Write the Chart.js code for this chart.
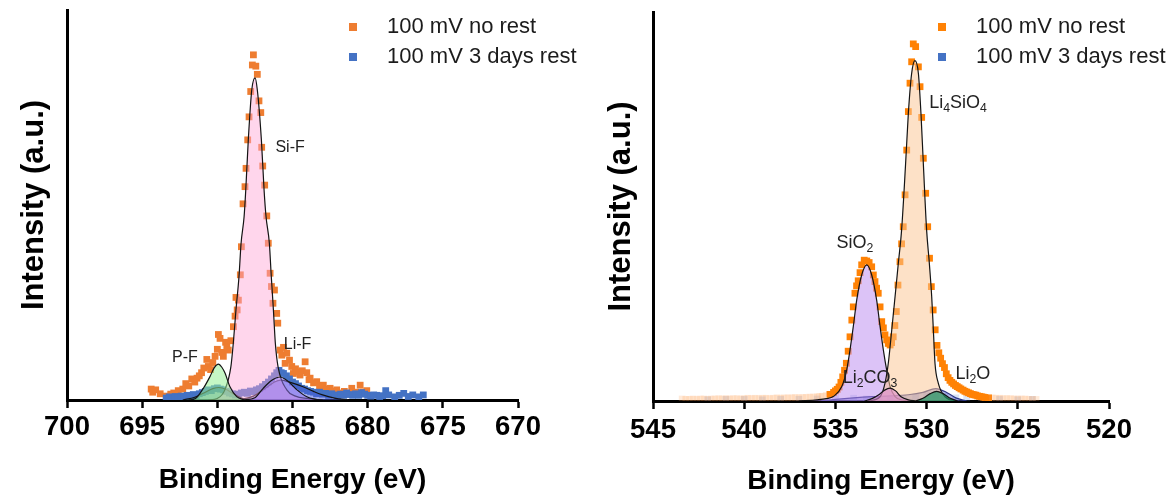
<!DOCTYPE html>
<html>
<head>
<meta charset="utf-8">
<script src="https://cdn.jsdelivr.net/npm/chart.js@4.4.1/dist/chart.umd.min.js"></script>
<style>
  html, body { margin: 0; padding: 0; background: #fff; width: 1171px; height: 498px; overflow: hidden; }
  #f1s { position: absolute; left: 0; top: 0; }
  #o1s { position: absolute; left: 590px; top: 0; }
</style>
</head>
<body>
<canvas id="f1s" width="590" height="498"></canvas>
<canvas id="o1s" width="581" height="498"></canvas>
<script>
// ---------- F 1s region: measured points [binding energy (eV), intensity (a.u.)] ----------
const fNoRest = [
  [694.4,2.8],[694.3,2.0],[694.1,2.6],[693.8,1.6],[693.4,1.0],[693.1,1.5],[692.9,1.8],[692.6,2.4],
  [692.3,2.8],[692.1,4.2],[691.9,3.6],[691.7,5.4],[691.5,4.6],[691.35,5.6],[691.2,6.2],[691.05,7.0],
  [690.9,8.2],[690.7,10.4],[690.6,8.6],[690.45,7.8],[690.3,9.6],[690.15,11.2],[690.0,13.0],[689.93,16.8],
  [689.82,15.8],[689.7,12.2],[689.6,11.2],[689.45,14.8],[689.37,13.6],[689.27,12.8],[689.1,15.2],[688.93,18.8],
  [688.82,21.5],[688.76,26.3],[688.68,23.1],[688.6,25.6],[688.47,32.1],[688.4,39.3],[688.29,50.3],[688.16,54.7],
  [688.09,59.4],[687.98,66.7],[687.89,72.6],[687.78,79.1],[687.67,85.9],[687.6,88.5],[687.44,85.6],[687.34,83.5],
  [687.23,76.7],[687.11,73.7],[687.05,64.8],[686.98,60.0],[686.85,55.1],[686.71,47.2],[686.61,40.2],[686.49,32.5],
  [686.4,29.1],[686.3,24.8],[686.2,28.2],[686.05,22.2],[685.98,19.7],[685.83,12.8],[685.71,11.5],[685.6,13.5],
  [685.49,9.4],[685.38,12.0],[685.2,10.2],[685.05,8.6],[684.94,6.8],[684.8,8.0],[684.65,7.2],[684.5,6.4],
  [684.35,7.5],[684.16,9.8],[684.05,7.0],[683.9,5.2],[683.83,5.6],[683.6,4.4],[683.39,4.7],[683.2,3.6],
  [682.95,3.8],[682.75,2.8],[682.5,3.0],[682.3,2.2],[682.06,2.6],[681.8,1.8],[681.55,2.2],[681.3,1.6],
  [681.06,3.0],[680.8,2.0],[680.5,3.8],[680.3,2.0],[680.06,2.4]
];
const fRest3d = [
  [693.4,0.5],[693.2,0.8],[693.0,0.4],[692.8,0.9],[692.6,0.6],[692.4,1.0],[692.2,0.7],[692.0,1.2],
  [691.8,1.0],[691.6,1.4],[691.4,1.1],[691.2,1.6],[691.0,1.9],[690.8,2.2],[690.6,2.6],[690.4,2.4],
  [690.2,2.9],[690.0,3.1],[689.8,2.8],[689.6,2.6],[689.4,2.2],[689.2,1.8],[689.0,1.6],[688.8,1.3],
  [688.6,1.5],[688.4,1.8],[688.2,2.0],[688.0,1.7],[687.8,2.3],[687.6,2.1],[687.4,2.6],[687.2,2.9],
  [687.0,3.4],[686.8,4.0],[686.6,4.6],[686.4,5.4],[686.2,6.2],[686.05,7.0],[685.9,7.6],[685.75,7.0],
  [685.6,6.8],[685.4,6.2],[685.2,5.4],[685.0,4.6],[684.8,4.2],[684.6,3.6],[684.4,3.0],[684.2,2.8],
  [684.0,2.4],[683.8,2.2],[683.6,2.0],[683.4,1.6],[683.2,2.0],[683.0,1.5],[682.8,1.7],[682.6,1.2],
  [682.4,1.6],[682.2,1.3],[682.0,1.1],[681.8,1.5],[681.6,1.2],[681.4,1.8],[681.2,1.4],[681.0,1.2],
  [680.8,1.6],[680.6,1.2],[680.4,1.9],[680.2,1.5],[680.0,1.2],[679.8,1.0],[679.6,1.3],[679.4,1.2],
  [679.2,0.9],[679.0,1.1],[678.8,2.4],[678.6,1.3],[678.2,0.8],[677.9,1.2],[677.6,1.7],[677.3,0.9],
  [677.0,1.3],[676.6,0.8],[676.3,1.3]
];
// fitted F 1s components, sampled along each fitted curve
const fitSiF = [
  [690.6,0],[690.0,0.4],[689.5,2.6],[689.1,8.5],[688.94,14.5],[688.76,23.1],[688.56,31.6],[688.42,40.2],
  [688.22,47.0],[688.11,53.8],[687.94,66.7],[687.71,79.5],[687.49,82.6],[687.34,79.5],[687.07,66.7],
  [686.89,53.8],[686.76,47.0],[686.54,40.2],[686.41,31.6],[686.27,23.1],[686.14,14.5],[685.96,8.5],
  [685.38,2.6],[684.8,1.0],[684.0,0.4],[683.0,0]
];
const fitPF = [[691.9,0],[691.48,0.3],[690.93,3.0],[690.49,6.0],[690.2,8.3],[689.93,9.2],[689.7,8.4],[689.49,6.9],[689.16,3.4],[688.71,0.85],[688.2,0]];
const fitPFRest = [[692.3,0],[691.5,0.7],[690.8,2.0],[690.3,2.9],[689.9,3.2],[689.4,2.7],[688.9,1.5],[688.4,0.5],[687.8,0]];
const fitLiF = [[688.3,0],[687.5,0.6],[686.95,3.0],[686.4,5.0],[685.83,5.9],[685.3,4.8],[684.7,2.6],[684.05,0.85],[683.3,0]];
const fitLiFRest = [[688.6,0],[687.6,1.0],[686.8,3.0],[686.2,4.6],[685.8,5.1],[685.2,4.6],[684.3,3.4],[683.6,2.2],[683.0,1.3],[682.2,0.5],[681.3,0]];

// ---------- O 1s region ----------
const oNoRest = [
  [543.4,0.5],[543.2,0.4],[543.0,0.4],[542.8,0.5],[542.6,0.4],[542.4,0.5],[542.2,0.5],[542.0,0.4],
  [541.8,0.5],[541.6,0.5],[541.4,0.6],[541.2,0.5],[541.0,0.6],[540.8,0.5],[540.6,0.6],[540.4,0.6],
  [540.2,0.5],[540.0,0.6],[539.8,0.7],[539.6,0.6],[539.4,0.7],[539.2,0.6],[539.0,0.7],[538.8,0.7],
  [538.6,0.6],[538.4,0.7],[538.2,0.8],[538.0,0.7],[537.8,0.8],[537.6,0.8],[537.4,0.8],[537.2,0.9],
  [537.0,0.8],[536.8,0.9],[536.6,0.9],[536.4,1.0],[536.2,1.0],[536.0,1.1],[535.85,1.15],[535.7,1.2],
  [535.5,1.4],[535.3,1.7],[535.1,2.2],[535.0,2.6],[534.9,3.0],[534.8,3.6],[534.7,4.8],[534.6,6.2],
  [534.5,7.9],[534.4,9.7],[534.3,12.8],[534.2,16.5],[534.1,20.8],[534.02,24.2],[533.93,27.7],[533.84,29.6],
  [533.75,30.9],[533.65,33.0],[533.56,35.0],[533.42,36.2],[533.28,36.0],[533.15,35.6],[533.01,34.5],[532.92,32.4],
  [532.83,30.7],[532.74,29.0],[532.65,27.7],[532.55,24.2],[532.46,20.4],[532.37,18.8],[532.28,17.0],[532.19,15.7],
  [532.1,14.8],[532.0,14.4],[531.92,15.0],[531.83,16.5],[531.74,19.4],[531.66,23.0],[531.57,29.8],[531.46,35.8],
  [531.37,40.4],[531.28,44.8],[531.18,53.0],[531.09,64.5],[531.0,74.4],[530.91,81.7],[530.82,87.2],[530.73,91.8],
  [530.6,91.1],[530.45,85.9],[530.36,80.8],[530.27,72.9],[530.18,62.4],[530.05,53.4],[529.94,44.8],[529.84,36.7],
  [529.74,29.4],[529.64,23.4],[529.53,18.3],[529.43,14.3],[529.33,12.4],[529.23,11.0],[529.13,9.6],[529.02,8.6],
  [528.92,7.0],[528.82,6.0],[528.72,5.3],[528.62,4.8],[528.52,4.4],[528.42,4.0],[528.32,3.7],[528.22,3.4],
  [528.12,3.1],[528.0,2.8],[527.9,2.5],[527.8,2.3],[527.7,2.1],[527.6,1.9],[527.5,1.7],[527.4,1.6],
  [527.3,1.5],[527.2,1.3],[527.1,1.2],[527.0,1.1],[526.9,1.0],[526.8,0.9],[526.6,0.8],[526.4,0.8],
  [526.2,0.7],[526.0,0.7],[525.8,0.6],[525.6,0.6],[525.4,0.6],[525.2,0.5],[525.0,0.5],[524.8,0.5],
  [524.6,0.5],[524.4,0.4],[524.2,0.4],[524.0,0.4]
];
const oRest3d = [
  [542.0,0.3],[541.0,0.4],[540.0,0.4],[539.0,0.3],[538.0,0.4],[537.0,0.4],[536.0,0.5],[535.0,0.6],
  [534.0,0.7],[533.3,0.5],[532.6,0.4],[532.0,0.6],[531.3,0.8],[530.6,1.0],[530.0,1.3],[529.5,1.6],
  [529.0,1.2],[528.4,0.8],[527.8,0.6],[527.0,0.5],[526.0,0.4],[525.0,0.3],[524.2,0.4]
];
const fitSiO2 = [
  [537.0,0],[536.0,0.3],[535.5,0.6],[535.1,1.2],[534.65,3.7],[534.38,8.0],[534.2,13.1],[534.02,19.1],
  [533.83,26.0],[533.56,32.4],[533.28,35.0],[533.01,32.4],[532.74,26.0],[532.55,19.1],[532.37,13.1],
  [532.19,8.0],[532.0,3.7],[531.73,1.1],[531.3,0.2],[530.6,0]
];
const fitLi4SiO4 = [
  [533.2,0],[532.55,1.1],[532.28,4.6],[532.1,9.7],[531.91,18.3],[531.73,26.8],[531.55,35.4],[531.37,44.0],
  [531.15,61.1],[531.0,74.0],[530.82,84.2],[530.64,87.5],[530.45,84.2],[530.31,74.0],[530.18,61.1],
  [530.0,44.0],[529.85,35.4],[529.72,26.8],[529.63,18.3],[529.54,9.7],[529.36,4.6],[528.99,1.1],[528.35,0]
];
const fitLi2CO3 = [[533.4,0],[533.0,0.6],[532.6,1.7],[532.3,2.8],[532.0,3.3],[531.7,2.6],[531.4,1.1],[531.0,0.3],[530.6,0]];
const fitLi2O = [[530.6,0],[530.2,0.7],[529.8,1.9],[529.45,2.5],[529.1,1.9],[528.7,0.7],[528.3,0]];
const fitORest = [[535.8,0],[535.0,0.4],[534.0,0.8],[533.0,1.1],[532.0,1.3],[531.0,1.6],[530.2,2.2],[529.5,3.2],[528.9,2.2],[528.4,0.8],[527.8,0]];

// axis ranges and tick step
const fRange = [670, 700];
const oRange = [520, 545];
const tickStep = 5;
// O 1s survey window outside which the measured points are drawn pale
const oCoreWindow = [526.6, 535.4];

// ---------- styling ----------
const FONT = "'Liberation Sans', Arial, Helvetica, sans-serif";
const ORANGE_F = '#EE7D31';
const ORANGE_O = '#FF8205';
const BLUE = '#4472C4';

function toXY(pts) { return pts.map(([x, y]) => ({ x, y })); }

function scatterSet(label, pts, color, order, faint, isPale) {
  const pick = c => (faint && c.raw && isPale(c.raw)) ? faint : color;
  return {
    type: 'scatter', label, data: toXY(pts), order,
    pointStyle: 'rect', pointRadius: 4.8, pointHoverRadius: 4.8, pointBorderWidth: 0,
    pointBackgroundColor: pick, backgroundColor: color, borderColor: color, showLine: false
  };
}

function fitSet(label, pts, fillColor, order, lineColor) {
  return {
    type: 'line', label, data: toXY(pts), order,
    fill: 'origin', backgroundColor: fillColor,
    borderColor: lineColor || '#141414', borderWidth: 1.2,
    pointRadius: 0, pointHoverRadius: 0, cubicInterpolationMode: 'monotone'
  };
}

function makeScales(range, g) {
  return {
    x: {
      type: 'linear', min: range[0], max: range[1], reverse: true, z: 1,
      afterFit: s => { s.height = g.xh; },
      ticks: { stepSize: tickStep, color: '#000', padding: g.tickPad, maxRotation: 0, autoSkip: false,
               font: { family: FONT, size: 27.5, weight: 'bold' } },
      grid: { display: true, drawOnChartArea: false, drawTicks: true, tickLength: 8, tickWidth: 2.5, tickColor: '#000' },
      border: { display: true, color: '#000', width: 3 },
      title: { display: true, text: 'Binding Energy (eV)', color: '#000',
               font: { family: FONT, size: 28, weight: 'bold' }, padding: { top: 0, bottom: g.xTitlePad } }
    },
    y: {
      type: 'linear', min: 0, max: 100,
      afterFit: s => { s.width = g.yw; },
      ticks: { display: false },
      grid: { display: false },
      border: { display: true, color: '#000', width: 3 },
      title: { display: true, text: 'Intensity (a.u.)', color: '#000',
               font: { family: FONT, size: 31, weight: 'bold' }, padding: { top: g.yTitlePad, bottom: 0 } }
    }
  };
}

// legend of the two measured series, drawn inside the plot area
const sampleLegend = {
  id: 'sampleLegend',
  afterDraw(chart, args, opts) {
    const ctx = chart.ctx;
    const items = chart.data.datasets.filter(d => d.type === 'scatter');
    ctx.save();
    ctx.font = `22px ${FONT}`;
    ctx.textBaseline = 'middle';
    ctx.textAlign = 'left';
    items.forEach((d, i) => {
      const y = opts.y + i * opts.gap;
      ctx.fillStyle = d.backgroundColor;
      ctx.fillRect(opts.markX - 4, y - 4, 8, 8);
      ctx.fillStyle = '#1c1c1c';
      ctx.fillText(d.label, opts.textX, y);
    });
    ctx.restore();
  }
};

// component names placed at data coordinates, with subscripts
const peakNames = {
  id: 'peakNames',
  afterDatasetsDraw(chart, args, opts) {
    const ctx = chart.ctx, xs = chart.scales.x, ys = chart.scales.y;
    const size = opts.size, sub = size * 0.68;
    ctx.save();
    ctx.fillStyle = '#222';
    ctx.textBaseline = 'middle';
    ctx.textAlign = 'left';
    opts.items.forEach(it => {
      let w = 0;
      it.parts.forEach(([t, s]) => { ctx.font = `${s ? sub : size}px ${FONT}`; w += ctx.measureText(t).width; });
      let x = xs.getPixelForValue(it.e) - w / 2;
      const y = ys.getPixelForValue(it.i);
      it.parts.forEach(([t, s]) => {
        ctx.font = `${s ? sub : size}px ${FONT}`;
        ctx.fillText(t, x, s ? y + size * 0.32 : y);
        x += ctx.measureText(t).width;
      });
    });
    ctx.restore();
  }
};

const NO_REST = '100 mV no rest';
const REST = '100 mV 3 days rest';
const outsideCore = p => p.x > oCoreWindow[1] || p.x < oCoreWindow[0];

new Chart(document.getElementById('f1s'), {
  type: 'scatter',
  data: {
    datasets: [
      scatterSet(NO_REST, fNoRest, ORANGE_F, 20),
      scatterSet(REST, fRest3d, BLUE, 19),
      fitSet('LiF (rest)', fitLiFRest, 'rgba(70,90,215,0.50)', 8),
      fitSet('P-F (rest)', fitPFRest, 'rgba(40,110,125,0.50)', 7),
      fitSet('Si-F', fitSiF, 'rgba(255,165,212,0.45)', 6),
      fitSet('Li-F', fitLiF, 'rgba(150,120,245,0.50)', 5),
      fitSet('P-F', fitPF, 'rgba(150,240,150,0.55)', 4)
    ]
  },
  options: {
    responsive: false, animation: false, devicePixelRatio: 1,
    layout: { padding: { left: 0, top: 10, right: 72, bottom: 0 } },
    scales: makeScales(fRange, { xh: 98, yw: 67, tickPad: 3, xTitlePad: 1.2, yTitlePad: 16 }),
    plugins: {
      legend: { display: false }, tooltip: { enabled: false },
      sampleLegend: { markX: 353, textX: 387, y: 27, gap: 30 },
      peakNames: { size: 16, items: [
        { parts: [['Si-F', 0]], e: 685.16, i: 64.6 },
        { parts: [['P-F', 0]], e: 692.15, i: 10.9 },
        { parts: [['Li-F', 0]], e: 684.66, i: 14.1 }
      ] }
    }
  },
  plugins: [sampleLegend, peakNames]
});

new Chart(document.getElementById('o1s'), {
  type: 'scatter',
  data: {
    datasets: [
      scatterSet(NO_REST, oNoRest, ORANGE_O, 19, 'rgba(255,160,80,0.22)', outsideCore),
      scatterSet(REST, oRest3d, BLUE, 20, 'rgba(90,130,210,0.22)', () => true),
      fitSet('O (rest)', fitORest, 'rgba(80,90,200,0.45)', 9, '#2c3585'),
      fitSet('SiO2', fitSiO2, 'rgba(185,135,240,0.50)', 8),
      fitSet('Li4SiO4', fitLi4SiO4, 'rgba(252,198,148,0.52)', 7),
      fitSet('Li2CO3', fitLi2CO3, 'rgba(220,140,205,0.60)', 6),
      fitSet('Li2O', fitLi2O, 'rgba(30,150,100,0.70)', 5)
    ]
  },
  options: {
    responsive: false, animation: false, devicePixelRatio: 1,
    layout: { padding: { left: 0, top: 12, right: 62, bottom: 0 } },
    scales: makeScales(oRange, { xh: 97, yw: 63, tickPad: 5, xTitlePad: 0, yTitlePad: 12.5 }),
    plugins: {
      legend: { display: false }, tooltip: { enabled: false },
      sampleLegend: { markX: 352, textX: 386, y: 27, gap: 30 },
      peakNames: { size: 18, items: [
        { parts: [['SiO', 0], ['2', 1]], e: 533.93, i: 40.6 },
        { parts: [['Li', 0], ['4', 1], ['SiO', 0], ['4', 1]], e: 528.28, i: 76.6 },
        { parts: [['Li', 0], ['2', 1], ['CO', 0], ['3', 1]], e: 533.1, i: 5.9 },
        { parts: [['Li', 0], ['2', 1], ['O', 0]], e: 527.46, i: 6.9 }
      ] }
    }
  },
  plugins: [sampleLegend, peakNames]
});
</script>
</body>
</html>
